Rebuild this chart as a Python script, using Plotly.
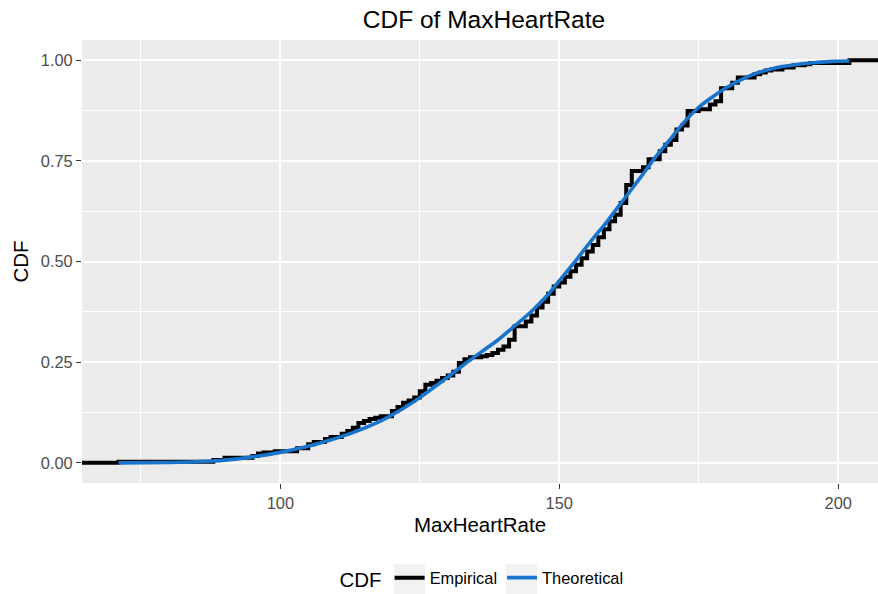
import plotly.graph_objects as go

# ---------------- data ----------------
# Empirical CDF: step positions (MaxHeartRate) and cumulative proportion after each step
ecdf_x = [71, 88, 90, 95, 96, 97, 99, 103, 105, 106, 108, 109, 111, 112, 113, 114,
          115, 116, 117, 118, 120, 121, 122, 123, 124, 125, 126, 127, 128, 129, 130,
          131, 132, 133, 134, 136, 137, 138, 139, 140, 141, 142, 144, 145, 146, 147,
          148, 149, 150, 151, 152, 153, 154, 155, 156, 157, 158, 159, 160, 161, 162,
          163, 165, 166, 168, 169, 170, 171, 172, 173, 175, 177, 178, 179, 181, 182,
          185, 186, 187, 188, 190, 192, 194, 195, 202]
ecdf_y = [0.003, 0.007, 0.013, 0.017, 0.023, 0.026, 0.029, 0.036, 0.046, 0.052, 0.059,
          0.064, 0.072, 0.079, 0.087, 0.099, 0.104, 0.109, 0.112, 0.116, 0.129, 0.139,
          0.149, 0.155, 0.162, 0.178, 0.194, 0.198, 0.204, 0.211, 0.217, 0.226, 0.248,
          0.257, 0.262, 0.265, 0.268, 0.273, 0.281, 0.289, 0.306, 0.339, 0.351, 0.366,
          0.386, 0.400, 0.420, 0.438, 0.448, 0.462, 0.476, 0.492, 0.508, 0.525, 0.541,
          0.560, 0.580, 0.600, 0.616, 0.645, 0.690, 0.725, 0.734, 0.754, 0.774, 0.790,
          0.802, 0.828, 0.838, 0.874, 0.878, 0.890, 0.898, 0.930, 0.944, 0.957, 0.965,
          0.969, 0.974, 0.977, 0.982, 0.987, 0.990, 0.993, 1.000]
# stand-ins for the -Inf / +Inf padding of the empirical step line
pad_left_x, pad_right_x = 40, 240
pad_left_y, pad_right_y = 0.0, 1.0

# Theoretical (fitted) CDF
theo_x = [71, 80, 87, 91, 96, 100, 104, 109, 113, 118, 122, 125, 127, 130, 133, 136,
          139, 142, 145, 148, 150, 153, 156, 158.5, 162, 165, 167, 170, 172, 175, 177,
          180, 183, 185, 188, 190, 195, 199, 202]
theo_y = [0.000, 0.001, 0.004, 0.008, 0.017, 0.026, 0.038, 0.057, 0.075, 0.104, 0.135,
          0.162, 0.182, 0.213, 0.245, 0.275, 0.305, 0.340, 0.376, 0.418, 0.452, 0.503,
          0.556, 0.598, 0.662, 0.717, 0.755, 0.805, 0.840, 0.883, 0.904, 0.932, 0.954,
          0.966, 0.978, 0.984, 0.993, 0.997, 0.998]

series_names = ["Empirical", "Theoretical"]
x_ticks = [100, 150, 200]
y_ticks = [0.0, 0.25, 0.5, 0.75, 1.0]
y_tick_text = ["0.00", "0.25", "0.50", "0.75", "1.00"]

# ---------------- figure ----------------
FONT = "Liberation Sans, Arial, Helvetica, sans-serif"
W, H = 878, 594
ML, MR, MT, MB = 82, 0, 40, 111
pw, ph = W - ML - MR, H - MT - MB


def px_x(p):
    return (p - ML) / pw


def px_y(p):
    return (H - MB - p) / ph


fig = go.Figure()
fig.add_trace(go.Scatter(
    x=[pad_left_x] + ecdf_x + [pad_right_x],
    y=[pad_left_y] + ecdf_y + [pad_right_y],
    mode="lines", name=series_names[0],
    line=dict(color="black", width=4, shape="hv"),
))
fig.add_trace(go.Scatter(
    x=theo_x, y=theo_y, mode="lines", name=series_names[1],
    line=dict(color="#1874CD", width=3.6, shape="spline", smoothing=0.6),
))

axis_common = dict(
    showgrid=True, gridcolor="white", gridwidth=1.8,
    zeroline=False, showline=False,
    ticks="outside", ticklen=5, tickwidth=1.3, tickcolor="#333333",
    tickfont=dict(size=16.4, color="#4D4D4D", family=FONT),
)

# grey legend-key backgrounds (ggplot style)
key_boxes = [(394, 425), (506, 537)]
shapes = [dict(type="rect", xref="paper", yref="paper",
               x0=px_x(a), x1=px_x(b), y0=px_y(594), y1=px_y(564),
               fillcolor="#F2F2F2", line=dict(width=0), layer="below")
          for a, b in key_boxes]

fig.update_layout(
    width=W, height=H,
    margin=dict(l=ML, r=MR, t=MT, b=MB, pad=0, autoexpand=False),
    paper_bgcolor="white", plot_bgcolor="#EBEBEB",
    font=dict(family=FONT, color="black"),
    title=dict(text="CDF of MaxHeartRate", x=px_x(484), xref="paper", xanchor="center",
               yref="container", y=1 - 19 / H, yanchor="middle",
               font=dict(size=24.5, color="black", family=FONT)),
    xaxis=dict(range=[64.45, 207.13], tickvals=x_ticks,
               minor=dict(dtick=25, tick0=0, showgrid=True, gridcolor="white", gridwidth=0.9, ticks=""),
               title=dict(text="MaxHeartRate", font=dict(size=20.5, color="black"), standoff=6),
               **axis_common),
    yaxis=dict(range=[-0.05, 1.05], tickvals=y_ticks, ticktext=y_tick_text,
               minor=dict(dtick=0.125, tick0=0, showgrid=True, gridcolor="white", gridwidth=0.9, ticks=""),
               title=dict(text="CDF", font=dict(size=20.5, color="black"), standoff=6),
               **axis_common),
    shapes=shapes,
    showlegend=True,
    legend=dict(orientation="h", xref="container", x=483 / W, xanchor="center",
                yref="container", y=1 - 579 / H, yanchor="middle",
                title=dict(text="CDF", side="left", font=dict(size=20.5, color="black")),
                font=dict(size=16.4, color="black"), itemwidth=30,
                bgcolor="rgba(0,0,0,0)", traceorder="normal"),
)

fig.write_html("out.html")
